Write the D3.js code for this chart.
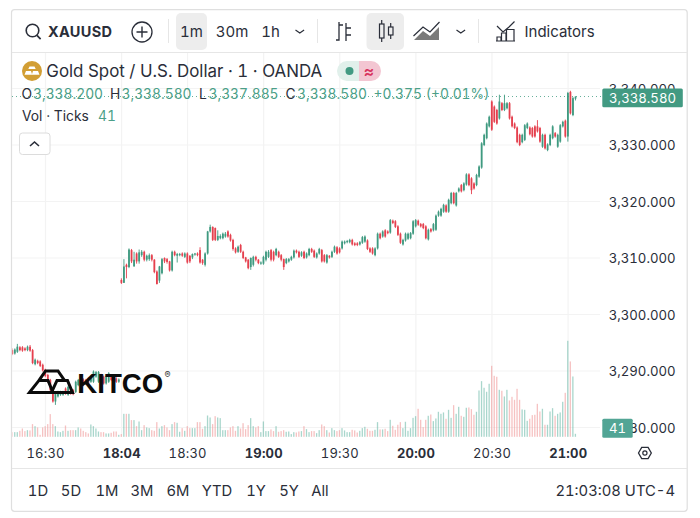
<!DOCTYPE html>
<html><head><meta charset="utf-8">
<script src="https://cdn.jsdelivr.net/npm/d3@7"></script>
<style>
html,body{margin:0;padding:0;background:#fff}
svg{display:block}
text{font-family:Inter,"Open Sans",sans-serif;fill:#2a2e39;font-variant-numeric:tabular-nums}
</style></head><body><svg id="c" width="700" height="518"></svg>
<script>
const opens=[3293.7,3293.1,3293.4,3294.2,3294.2,3294.0,3293.7,3294.3,3293.7,3291.2,
3291.8,3291.7,3291.1,3290.2,3289.3,3288.4,3286.6,3284.6,3285.5,3285.8,
3285.8,3286.9,3285.8,3286.9,3286.6,3286.3,3287.5,3288.5,3288.5,3288.4,
3288.7,3288.1,3288.1,3289.0,3288.1,3289.3,3289.0,3287.8,3288.1,3289.1,
3288.9,3288.7,3288.1,
3306.1,3305.6,3308.8,3308.4,3311.4,3308.5,3310.8,3309.4,3310.5,3311.1,
3309.7,3309.8,3310.5,3309.7,3307.6,3306.0,3307.3,3310.0,3309.8,3309.4,
3307.8,3311.1,3310.4,3310.5,3310.8,3310.2,3310.8,3310.4,3310.1,3310.6,
3310.8,3311.4,3309.7,3308.8,3310.8,3314.7,3315.5,3315.3,3313.2,3313.5,
3313.5,3313.8,3314.7,3314.1,3313.2,3311.7,3311.1,3312.3,3311.1,3310.1,
3309.7,3308.4,3308.8,3310.2,3309.7,3309.0,3309.0,3309.7,3310.2,3311.4,
3311.1,3310.5,3311.1,3310.5,3309.8,3309.1,3309.4,3309.7,3310.1,3311.3,
3311.1,3310.4,3311.1,3310.1,3310.5,3311.6,3311.3,3310.1,3310.8,3311.4,
3310.5,3309.2,3310.4,3310.2,3311.1,3311.9,3311.7,3311.7,3312.6,3312.8,
3312.8,3313.2,3312.6,3312.6,3312.4,3312.7,3312.9,3313.1,3311.7,3311.7,3310.5,
3311.7,3314.3,3313.8,3314.9,3314.7,3314.5,3316.6,3316.5,
3315.6,3314.3,3312.4,3313.1,3313.4,3313.5,3314.3,3315.6,3316.6,3316.0,
3316.0,3315.6,3313.3,3315.1,3314.9,3315.0,3317.5,3317.5,3318.2,3319.3,
3318.2,3319.7,3321.5,3319.3,3321.8,3322.9,3322.0,3323.0,3324.8,3324.1,
3323.2,3322.9,3324.4,3326.0,3330.0,3331.2,3333.3,3337.7,3336.8,3336.2,
3334.7,3337.4,3336.2,3336.5,3337.4,3335.0,3333.8,3333.1,3331.8,3330.5,
3330.9,3333.0,3333.1,3333.0,3333.3,3333.3,3333.0,3329.7,3331.8,3329.1,
3330.0,3331.2,3332.1,3329.7,3330.6,3333.3,3334.3,3331.5,3339.4,3335.3,
3338.2];
const closes=[3293.0,3293.8,3294.3,3293.7,3293.6,3293.7,3294.3,3293.6,3291.4,3292.0,
3291.4,3290.9,3290.1,3289.1,3288.1,3286.6,3284.6,3286.0,3286.3,3286.3,
3286.3,3286.0,3287.2,3286.0,3285.9,3288.1,3288.4,3287.8,3287.5,3287.8,
3287.8,3289.0,3289.9,3289.8,3289.8,3288.1,3287.8,3289.0,3289.6,3288.4,
3288.3,3288.1,3288.5,
3305.6,3308.5,3308.4,3311.5,3309.4,3309.7,3309.4,3311.0,3311.1,3309.7,
3310.4,3310.5,3309.7,3307.5,3305.4,3308.5,3309.8,3309.4,3309.3,3307.8,
3311.1,3310.5,3310.7,3310.7,3310.4,3310.8,3309.2,3309.4,3310.7,3310.8,
3310.5,3309.2,3309.1,3310.8,3314.7,3315.5,3313.2,3313.2,3313.9,3313.9,
3314.3,3314.3,3313.8,3313.1,3311.6,3311.0,3312.0,3311.1,3310.0,3309.4,
3308.2,3310.0,3310.2,3309.7,3309.1,3309.2,3310.2,3311.1,3311.1,3309.7,
3309.7,3311.6,3310.2,3309.7,3308.4,3309.8,3309.8,3310.2,3311.3,3311.0,
3310.2,3311.0,3310.0,3310.8,3311.6,3311.1,3310.2,3310.8,3311.6,3309.4,
3309.4,3310.5,3310.1,3311.1,3312.0,3310.8,3311.0,3312.9,3312.9,3313.0,
3313.2,3312.4,3312.3,3312.3,3312.8,3313.7,3313.8,3311.6,3311.1,3310.8,3311.7,
3314.3,3313.5,3314.7,3313.8,3314.4,3316.7,3316.2,3315.5,
3314.1,3312.7,3313.2,3314.3,3314.3,3314.4,3316.5,3316.7,3315.9,3315.6,
3315.3,3313.5,3315.0,3314.7,3316.0,3317.5,3318.2,3318.7,3319.4,3318.2,
3320.3,3321.5,3319.7,3321.5,3322.3,3321.8,3323.2,3324.8,3322.9,3322.0,
3322.3,3324.7,3326.2,3330.3,3331.8,3333.8,3335.0,3332.7,3334.1,3333.8,
3337.7,3336.2,3337.4,3337.4,3334.7,3333.3,3333.0,3330.5,3330.0,3331.8,
3333.5,3333.8,3331.9,3331.5,3331.5,3332.4,3330.6,3331.8,3329.4,3330.1,
3331.8,3333.3,3331.5,3331.8,3333.5,3334.1,3331.5,3339.2,3335.6,3338.3,
3338.58];
const highs=[3294.0,3294.0,3294.8,3294.4,3294.4,3294.2,3294.5,3294.6,3293.9,3292.2,
3292.0,3291.9,3291.3,3290.4,3289.5,3288.6,3286.8,3286.3,3286.5,3286.5,
3286.5,3287.1,3287.4,3287.1,3286.8,3288.3,3288.6,3288.7,3288.7,3288.6,
3288.9,3289.2,3290.1,3290.0,3290.0,3289.5,3289.2,3289.2,3289.8,3289.3,
3289.1,3288.9,3288.7,
3306.4,3309.8,3309.0,3311.7,3311.6,3311.1,3311.0,3311.5,3311.4,3311.3,
3310.6,3310.8,3310.7,3309.8,3307.8,3308.6,3310.0,3310.1,3310.0,3309.5,
3311.3,3311.3,3310.9,3310.9,3311.0,3311.0,3311.0,3310.5,3310.8,3310.9,
3311.0,3311.9,3309.8,3311.0,3314.8,3315.9,3315.6,3315.4,3314.9,3314.2,
3314.5,3314.6,3314.9,3314.3,3313.4,3311.9,3312.2,3312.5,3311.3,3310.2,
3309.8,3310.1,3310.4,3310.4,3309.8,3309.4,3310.4,3311.3,3311.4,3311.6,
3311.3,3311.8,3311.3,3310.7,3309.9,3310.0,3310.0,3310.4,3311.5,3311.5,
3311.3,3311.2,3311.3,3311.0,3311.8,3311.8,3311.5,3311.0,3311.8,3311.6,
3310.7,3310.7,3310.5,3311.3,3312.2,3312.1,3311.9,3313.1,3313.1,3313.2,
3313.4,3313.4,3312.8,3312.8,3313.0,3313.9,3314.0,3313.3,3311.9,3311.9,3311.9,
3314.5,3314.5,3314.9,3315.1,3314.9,3316.9,3316.8,3316.7,
3315.8,3314.5,3313.4,3314.5,3314.5,3314.6,3316.7,3316.9,3316.8,3316.2,
3316.2,3315.8,3315.2,3315.3,3316.2,3317.7,3318.4,3318.9,3319.6,3319.5,
3320.5,3321.7,3321.7,3321.7,3322.5,3323.1,3323.4,3325.0,3325.0,3324.3,
3323.4,3324.9,3326.4,3330.5,3332.0,3334.0,3335.2,3337.9,3337.0,3336.4,
3338.9,3337.6,3338.9,3337.6,3337.6,3335.2,3334.0,3333.3,3332.0,3332.0,
3333.7,3334.0,3333.3,3333.2,3333.5,3334.4,3333.2,3332.0,3332.0,3330.3,
3332.0,3333.5,3332.3,3332.0,3333.7,3334.3,3334.5,3339.4,3339.6,3338.5,
3338.58];
const lows=[3292.8,3292.9,3293.2,3293.5,3293.4,3293.5,3293.5,3293.4,3291.2,3291.0,
3291.2,3290.7,3289.9,3288.9,3287.9,3286.4,3284.4,3284.0,3285.3,3285.6,
3285.6,3285.8,3285.6,3285.8,3285.7,3286.1,3287.3,3287.6,3287.3,3287.6,
3287.6,3287.9,3287.9,3288.8,3287.9,3287.9,3287.6,3287.6,3287.9,3288.2,
3288.1,3287.9,3287.9,
3305.4,3305.6,3306.4,3308.2,3309.1,3308.5,3309.0,3309.0,3310.2,3309.4,
3309.4,3309.5,3309.4,3307.3,3305.3,3305.6,3307.1,3309.1,3309.0,3307.6,
3307.6,3310.3,3309.2,3310.3,3310.2,3310.0,3309.0,3309.1,3309.8,3310.4,
3310.3,3309.0,3308.8,3308.5,3310.6,3314.5,3313.0,3313.0,3313.0,3313.3,
3313.3,3313.6,3313.6,3312.9,3311.3,3310.8,3310.9,3310.9,3309.8,3309.2,
3308.0,3307.9,3308.5,3309.4,3308.9,3308.8,3308.8,3309.4,3310.0,3309.4,
3309.4,3310.3,3310.0,3309.4,3307.9,3308.9,3309.2,3309.5,3309.9,3310.8,
3310.0,3310.2,3309.8,3309.9,3310.3,3310.9,3310.0,3309.9,3310.6,3309.2,
3309.2,3309.0,3309.9,3310.0,3310.9,3310.6,3310.8,3311.5,3312.4,3312.6,
3312.6,3312.2,3312.1,3312.1,3312.2,3312.5,3312.7,3311.4,3310.9,3310.6,3310.3,
3311.5,3313.3,3313.6,3313.6,3314.2,3314.3,3316.0,3315.3,
3313.9,3312.5,3312.2,3312.9,3313.2,3313.3,3314.1,3315.4,3315.7,3315.4,
3315.1,3313.3,3313.1,3314.5,3314.7,3314.8,3317.3,3317.3,3318.0,3318.0,
3318.0,3319.5,3319.5,3319.1,3321.6,3321.6,3321.8,3322.8,3322.7,3321.3,
3322.1,3322.7,3324.2,3325.8,3329.8,3331.0,3333.1,3332.5,3333.9,3333.6,
3334.5,3336.0,3336.0,3336.3,3334.5,3333.1,3332.8,3330.3,3329.8,3330.3,
3330.7,3332.8,3331.7,3331.3,3331.3,3332.2,3330.4,3329.5,3329.2,3328.9,
3329.8,3331.0,3331.3,3329.5,3330.4,3333.1,3331.3,3330.6,3335.4,3335.1,
3337.885];
const ticksVolume=[64,64,64,82,114,78,91,87,174,146,128,27,128,146,174,311,174,146,73,64,82,155,82,91,91,91,128,114,82,64,46,169,146,114,73,64,64,46,46,55,73,73,27,
37,315,315,315,229,229,146,210,91,160,
128,119,91,82,201,114,146,160,128,91,
174,201,192,69,119,82,146,119,119,119,
201,201,110,146,292,265,174,283,265,256,
91,91,91,128,146,82,146,114,187,105,
160,256,146,128,146,64,210,78,78,101,
78,146,69,78,91,69,73,37,64,59,
73,78,146,105,64,78,78,50,91,169,
146,91,59,119,91,78,91,
119,87,64,64,96,87,59,82,119,137,
110,82,82,96,201,101,101,110,78,233,
151,96,165,201,119,206,82,119,260,283,
384,233,133,233,288,306,215,251,343,315,
334,247,370,260,434,315,411,288,274,398,
402,379,302,343,635,763,672,617,727,973,
836,823,644,631,553,644,498,548,507,658,
507,375,370,219,247,297,302,452,347,384,
165,165,347,393,288,315,334,480,603,1316,
1033,827,41];
const priceTicks=[3280,3290,3300,3310,3320,3330,3340];
const timeSlots=[13,43,69,99,129,159,189,219];
const timeLabels=["16:30","18:04","18:30","19:00","19:30","20:00","20:30","21:00"];
const boldLabels=["18:04","19:00","20:00","21:00"];
const ranges=["1D","5D","1M","3M","6M","YTD","1Y","5Y","All"];
const rangeCenters=[38,71,107,142,178,217,256,289,320];
const lastPrice=3338.58, lastVolume=41;

const GREEN="#3f9a80",RED="#e5404e",INK="#2a2e39";
const svg=d3.select("#c");
const n=opens.length, idx=d3.range(n);
const x=d3.scaleLinear().domain([0,222]).range([12.1,575.3]);
const y=d3.scaleLinear().domain([3280,3340]).range([427.5,88.5]);
const v=d3.scaleLinear().domain([0,1316]).range([436.8,340.8]);
const isUp=i=>closes[i]>=opens[i];

svg.append("defs").append("clipPath").attr("id","plot").append("rect").attr("x",12.5).attr("y",53).attr("width",588).attr("height",384);

// frame
svg.append("rect").attr("x",11.5).attr("y",9.7).attr("width",675.7).attr("height",501.6).attr("rx",3).attr("fill","#fff").attr("stroke","#dfdfdf").attr("stroke-width",1.2);
const line=(x1,y1,x2,y2,c="#e6e6e6",w=1)=>svg.append("line").attr("x1",x1).attr("y1",y1).attr("x2",x2).attr("y2",y2).attr("stroke",c).attr("stroke-width",w);
line(12,52.5,687,52.5,"#e6e6e6");
line(12,468.5,687,468.5,"#e6e6e6");

// grid
const grid=svg.append("g");
grid.selectAll(".gy").data(priceTicks).join("line").attr("x1",12).attr("x2",600).attr("y1",d=>y(d)).attr("y2",d=>y(d)).attr("stroke","#f3f3f3").attr("stroke-width",1.2);
grid.selectAll(".gx").data(timeSlots).join("line").attr("y1",53).attr("y2",437).attr("x1",d=>x(d)+.4).attr("x2",d=>x(d)+.4).attr("stroke","#f3f3f3").attr("stroke-width",1.2);

const plot=svg.append("g").attr("clip-path","url(#plot)");
// volume
plot.selectAll(".vol").data(idx).join("rect").attr("x",i=>x(i)-.55).attr("width",1.3)
 .attr("y",i=>v(ticksVolume[i])).attr("height",i=>v(0)-v(ticksVolume[i]))
 .attr("fill",i=>isUp(i)?"#62b5a3":"#ee8f8f").attr("fill-opacity",.55);
// last price line
svg.append("line").attr("x1",12).attr("x2",601).attr("y1",y(lastPrice)).attr("y2",y(lastPrice)).attr("stroke",GREEN).attr("stroke-width",1).attr("stroke-dasharray","1 3").attr("stroke-opacity",.8);
// candles
plot.selectAll(".wick").data(idx).join("line").attr("x1",i=>x(i)+.2).attr("x2",i=>x(i)+.2).attr("y1",i=>y(highs[i])).attr("y2",i=>y(lows[i]))
 .attr("stroke",i=>isUp(i)?GREEN:RED).attr("stroke-width",.9);
plot.selectAll(".body").data(idx).join("rect").attr("x",i=>x(i)-.7).attr("width",1.8)
 .attr("y",i=>y(Math.max(opens[i],closes[i]))).attr("height",i=>Math.max(.7,Math.abs(y(opens[i])-y(closes[i]))))
 .attr("fill",i=>isUp(i)?GREEN:RED);

// price axis
const pa=svg.append("g").attr("transform","translate(601,0)").call(d3.axisRight(y).tickValues(priceTicks).tickSize(0).tickFormat(d3.format(",.3f")));
pa.select(".domain").remove();
pa.selectAll("text").attr("x",74.6).attr("text-anchor","end").attr("dy",".36em").style("font-family","Inter").style("font-size","13.2px").style("fill",INK);
// time axis
const ta=svg.append("g").attr("transform","translate(0,437)").call(d3.axisBottom(x).tickValues(timeSlots).tickSize(0).tickFormat((d,i)=>timeLabels[i]));
ta.select(".domain").remove();
ta.selectAll("text").attr("y",16).attr("dy",".36em").style("font-family","Inter").style("font-size","13px").style("letter-spacing",".2px").style("fill",INK)
 .style("font-weight",function(){return boldLabels.includes(this.textContent)?700:400});

// price tags
const tag=(x0,y0,w,h,c,t,size)=>{svg.append("rect").attr("x",x0).attr("y",y0).attr("width",w).attr("height",h).attr("rx",1.5).attr("fill",c);
 svg.append("text").attr("x",x0+w/2).attr("y",y0+h/2).attr("dy",".36em").attr("text-anchor","middle").style("fill","#fff").style("font-size",size+"px").text(t);};
tag(602.3,88.4,80.5,18.8,"#429a82",d3.format(",.3f")(lastPrice),13.2);
tag(602.3,418.7,30.4,19,"#52a595",String(lastVolume),13.2);

// logo
const logo=svg.append("g").attr("fill","none").attr("stroke","#0b0b0b").attr("stroke-width",3).attr("stroke-linejoin","miter");
logo.append("path").attr("d","M29.5 392.4L39 380.4H48L53 392.4Z");
logo.append("path").attr("d","M51.5 392.4L57 380.4H67.5L72.5 392.4Z");
logo.append("path").attr("d","M39 380.4L45.5 371H58L64.5 380.4");
svg.append("text").attr("x",77.3).attr("y",392.8).style("font-family","'Liberation Sans'").style("font-weight",700).style("font-size","27.6px").style("fill","#0b0b0b").text("KITCO");
svg.append("text").attr("x",164.5).attr("y",377.5).style("font-size","9px").style("fill","#333").text("®");

// legend
const T=(x0,y0,t,size,o={})=>{const e=svg.append("text").attr("x",x0).attr("y",y0).attr("dy",".36em").style("font-size",size+"px").style("fill",o.c||INK).text(t);
 if(o.w)e.style("font-weight",o.w); if(o.a)e.attr("text-anchor",o.a); if(o.ls)e.style("letter-spacing",o.ls+"px"); return e;};
svg.append("circle").attr("cx",32).attr("cy",71).attr("r",10).attr("fill","#d29e33");
svg.append("path").attr("d","M29.5 66.5h5l1.2 2.6h-7.4ZM24.5 74.8l1.5-3.8h5l1.2 3.8ZM31.8 74.8l1.2-3.8h5l1.5 3.8Z").attr("fill","#fff");
T(46.3,71,"Gold Spot / U.S. Dollar · 1 · OANDA",16.9);
svg.append("path").attr("d","M359 61H347a10 10 0 0 0 0 20H359Z").attr("fill","#e1f0eb");
svg.append("path").attr("d","M359 61H371a10 10 0 0 1 0 20H359Z").attr("fill","#f3c6d2");
svg.append("circle").attr("cx",349.5).attr("cy",71).attr("r",4).attr("fill","#429a82");
T(369,71,"≈",16,{a:"middle",c:"#d8345f",w:600});
const LG="#4c9f88";
T(21.5,94,"O",13.8);T(33,94,"3,338.200",13.8,{c:LG});
T(110,94,"H",13.8);T(121.5,94,"3,338.580",13.8,{c:LG});
T(199,94,"L",13.8);T(208.5,94,"3,337.885",13.8,{c:LG});
T(285.5,94,"C",13.8);T(297,94,"3,338.580",13.8,{c:LG});
T(373.5,94,"+0.375 (+0.01%)",13.8,{c:LG});
T(22,116,"Vol · Ticks",13.8);T(98,116,String(lastVolume),13.8,{c:LG});
svg.append("rect").attr("x",19.5).attr("y",133).attr("width",30.5).attr("height",21.5).attr("rx",3).attr("fill","#fff").attr("stroke","#dcdcdc");
const ic=(d,w=1.4,c=INK)=>svg.append("path").attr("d",d).attr("fill","none").attr("stroke",c).attr("stroke-width",w);
ic("M30 146l4.5-4 4.5 4",1.6);

// toolbar
svg.append("rect").attr("x",176).attr("y",13).attr("width",31).attr("height",37).attr("rx",5).attr("fill","#ededed");
svg.append("rect").attr("x",366.5).attr("y",13).attr("width",37.5).attr("height",37).attr("rx",5).attr("fill","#ededed");
line(168.5,19,168.5,43,"#e6e6e6");line(317.5,19,317.5,43,"#e6e6e6");line(478.5,19,478.5,43,"#e6e6e6");
svg.append("circle").attr("cx",32.5).attr("cy",30.5).attr("r",6.3).attr("fill","none").attr("stroke",INK).attr("stroke-width",1.6);
ic("M37 35.3l3.6 3.8",1.7);
T(48,31.5,"XAUUSD",14.5,{w:700,ls:.3});
svg.append("circle").attr("cx",142).attr("cy",32).attr("r",10).attr("fill","none").attr("stroke",INK).attr("stroke-width",1.3);
ic("M142 26.5v11M136.5 32h11",1.4);
T(191.5,32,"1m",15,{a:"middle"});T(232,32,"30m",15,{a:"middle"});T(270.5,32,"1h",15,{a:"middle"});
ic("M295.5 30l4.3 3 4.3-3",1.2);
ic("M336 40h3v-18M339 25h4M346 23v18M346 28h5M346 35h5",1.3);
svg.append("rect").attr("x",379.5).attr("y",24).attr("width",4.5).attr("height",14).attr("fill","none").attr("stroke",INK).attr("stroke-width",1.2);
ic("M381.7 20v4M381.7 38v4",1.2);
svg.append("rect").attr("x",388.5).attr("y",27).attr("width",4.5).attr("height",8).attr("fill","none").attr("stroke",INK).attr("stroke-width",1.2);
ic("M390.7 23v4M390.7 35v4",1.2);
svg.append("path").attr("d","M414 40L423 31L430 36L439 27V40Z").attr("fill","#7a7a7a");
ic("M413.5 36L423 27L430 32L439.5 22",1.2);
ic("M456.5 30l4.3 3 4.3-3",1.2);
ic("M497 26L503 32L509 27L514.5 21.5",1.2);
ic("M497 41V37H501V41M501.5 41V33H506V41M506.5 41V29.5H514V41M496 41H515",1.2);
T(524.5,32,"Indicators",15);

// time zone & ranges
svg.selectAll(".rng").data(ranges).join("text").attr("x",(d,i)=>rangeCenters[i]).attr("y",491).attr("dy",".36em").attr("text-anchor","middle").style("font-size","14.8px").text(d=>d);
T(675,490.5,"21:03:08 UTC-4",14.8,{a:"end"});
ic("M638.5 453l3.2-5.6h6.4l3.2 5.6-3.2 5.6h-6.4Z",1.3);
svg.append("circle").attr("cx",644.9).attr("cy",453).attr("r",2.1).attr("fill","none").attr("stroke",INK).attr("stroke-width",1.2);
</script></body></html>
